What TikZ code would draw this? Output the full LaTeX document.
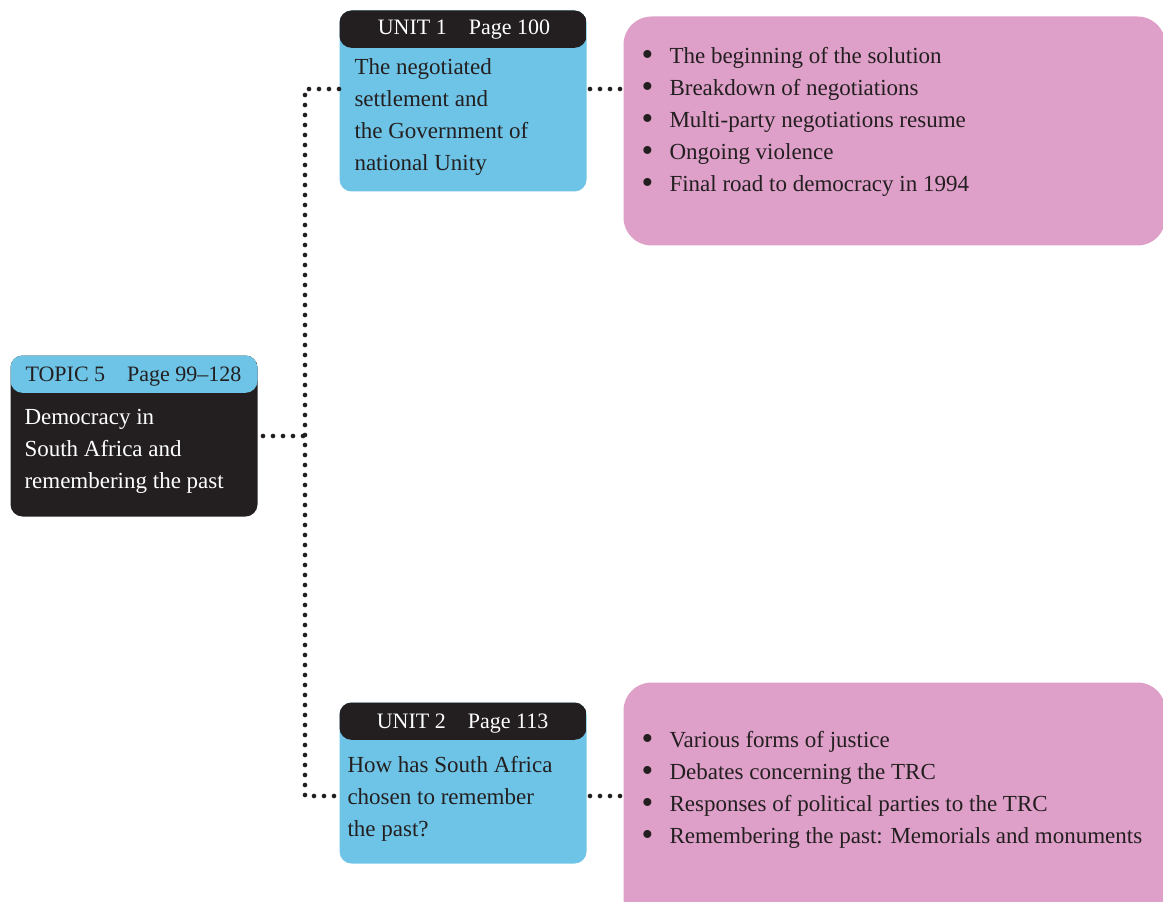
\documentclass[tikz,border=0pt]{standalone}
\usepackage{fontspec}
\setmainfont{Liberation Serif}
\definecolor{sky}{RGB}{110,196,230}
\definecolor{ink}{RGB}{35,31,32}
\definecolor{rose}{RGB}{222,160,200}
\tikzset{every picture/.style={line width=0.75pt}}
\tikzset{
  capbox/.style 2 args={fill=#1, rounded corners=9pt, anchor=north west, inner sep=0pt,
    minimum width=185.25pt,
    path picture={\fill[#2] (path picture bounding box.north west) rectangle ([yshift=-28pt]path picture bounding box.north east);}},
  listbox/.style={fill=rose, rounded corners=21pt, anchor=north west, inner sep=0pt, minimum width=406.5pt},
  headtext/.style={anchor=base, inner sep=0pt, font=\fontsize{16.5pt}{20pt}\selectfont},
  bodytext/.style={anchor=north west, inner sep=0pt, align=left, font=\fontsize{17.25pt}{24pt}\selectfont},
  dotline/.style={ink, line width=3.5pt, line cap=round, dash pattern=on 0pt off 7.5pt}
}
\newcommand{\itm}{\makebox[21pt][l]{\raisebox{-0.08em}{\scalebox{1.45}{\textbullet}}}}

\begin{document}
\begin{tikzpicture}[x=0.75pt,y=0.75pt,yscale=-1,xscale=1]
\clip (0,0) rectangle (1163,902);

%Shape: Topic box
\node[capbox={ink}{sky}, minimum height=120.75pt] (topic) at (10,355) {};
%Shape: Unit boxes
\node[capbox={sky}{ink}, minimum height=135.75pt] (unitone) at (339,10) {};
\node[capbox={sky}{ink}, minimum height=120.75pt] (unittwo) at (339,702) {};
%Shape: List boxes
\node[listbox, minimum height=171.75pt] (listone) at (623,16) {};
\node[listbox, minimum height=182.25pt] (listtwo) at (623,682) {};

%Dotted connectors
\coordinate (upper) at (305,89);
\coordinate (lower) at (305,796);
\draw[dotline, shorten <=3.75pt] (topic.east) -- (topic.east -| upper);
\draw[dotline, shorten >=2.5pt] (unitone.west |- upper) -- (upper) -- (lower) -- (unittwo.west |- lower);
\draw[dotline, shorten <=2.25pt, shorten >=0.5pt] (unitone.east |- upper) -- (listone.west |- upper);
\draw[dotline, shorten <=2.25pt, shorten >=0.5pt] (unittwo.east |- lower) -- (listtwo.west |- lower);

% Text Node
\node[headtext, ink] (topichead) at (133.5,381) {TOPIC 5\quad Page 99–128};
\node[bodytext, white] (topictext) at (24,409) {Democracy in\\South Africa and\\remembering the past};
% Text Node
\node[headtext, white] (unitonehead) at (464,35) {UNIT 1\quad Page 100};
\node[bodytext, ink] (unitonetext) at (354,58) {The negotiated\\settlement and\\the Government of\\national Unity};
% Text Node
\node[headtext, white] (unittwohead) at (462.5,728) {UNIT 2\quad Page 113};
\node[bodytext, ink] (unittwotext) at (347,756) {How has South Africa\\chosen to remember\\the past?};
% Text Node
\node[bodytext, ink] (listonetext) at (641,47) {\itm The beginning of the solution\\\itm Breakdown of negotiations\\\itm Multi-party negotiations resume\\\itm Ongoing violence\\\itm Final road to democracy in 1994};
% Text Node
\node[bodytext, ink] (listtwotext) at (641,731) {\itm Various forms of justice\\\itm Debates concerning the TRC\\\itm Responses of political parties to the TRC\\\itm Remembering the past: Memorials and monuments};

\end{tikzpicture}
\end{document}
